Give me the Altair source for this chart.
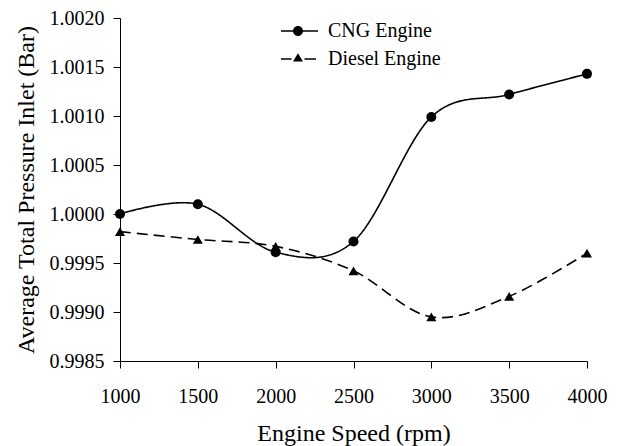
import altair as alt
import pandas as pd

speed = [1000, 1500, 2000, 2500, 3000, 3500, 4000]
cng = [1.00000, 1.00010, 0.99961, 0.99972, 1.00099, 1.00122, 1.00143]
diesel = [0.99982, 0.99974, 0.99967, 0.99942, 0.99895, 0.99916, 0.99960]
series_names = ["CNG Engine", "Diesel Engine"]
x_ticks = [1000, 1500, 2000, 2500, 3000, 3500, 4000]
y_ticks = [0.9985, 0.9990, 0.9995, 1.0000, 1.0005, 1.0010, 1.0015, 1.0020]

rows = []
for s, c, d in zip(speed, cng, diesel):
    rows.append({"speed": s, "pressure": c, "series": series_names[0]})
    rows.append({"speed": s, "pressure": d, "series": series_names[1]})
df = pd.DataFrame(rows)

FONT = "Liberation Serif, Times New Roman, serif"
# legend glyphs: thin filled bars for the line pieces plus the marker
CNG_PATH = ("M-6.4,-0.16H1V0.16H-6.4Z"
            "M-2,0A1,1 0 1,1 -4,0A1,1 0 1,1 -2,0Z")
DIESEL_PATH = ("M-6.4,-0.16H-4.3V0.16H-6.4Z"
               "M-1.7,-0.16H0.6V0.16H-1.7Z"
               "M-3,-1.15L-2,0.5L-4,0.5Z")

x_enc = alt.X(
    "speed:Q",
    scale=alt.Scale(domain=[1000, 4000], nice=False, zero=False),
    axis=alt.Axis(
        values=x_ticks, format="d", title="Engine Speed (rpm)", grid=False,
        tickSize=7, labelPadding=34, labelBaseline="alphabetic",
        labelFlush=False, labelOverlap=False,
        titleBaseline="alphabetic", titleY=79,
    ),
)
y_enc = alt.Y(
    "pressure:Q",
    scale=alt.Scale(domain=[0.9985, 1.0020], nice=False, zero=False),
    axis=alt.Axis(
        values=y_ticks, format=".4f", title="Average Total Pressure Inlet (Bar)",
        grid=False, tickSize=7, labelPadding=9, labelFlush=False, labelOverlap=False,
        titleX=-87, titleY=171.5, titleAngle=270, titleAlign="center",
        titleBaseline="alphabetic",
    ),
)

base = alt.Chart(df)

lines = base.mark_line(interpolate="cardinal", color="black", strokeWidth=1.6).encode(
    x=x_enc, y=y_enc,
    detail="series:N",
    strokeDash=alt.StrokeDash(
        "series:N",
        scale=alt.Scale(domain=series_names, range=[[1, 0], [11, 6]]),
        legend=None,
    ),
)

points = base.mark_point(filled=True, color="black", size=100, opacity=1).encode(
    x=x_enc, y=y_enc,
    shape=alt.Shape(
        "series:N",
        scale=alt.Scale(domain=series_names, range=["circle", "triangle-up"]),
        legend=None,
    ),
)

legend_layer = base.mark_point(
    filled=True, color="black", opacity=0
).encode(
    x=x_enc, y=y_enc,
    shape=alt.Shape(
        "series:N",
        scale=alt.Scale(domain=series_names, range=[CNG_PATH, DIESEL_PATH]),
        legend=alt.Legend(
            title=None, orient="none", legendX=183, legendY=3,
            labelFont=FONT, labelFontSize=20, labelColor="black",
            symbolSize=100, symbolStrokeWidth=0, labelOffset=5, rowPadding=8,
            symbolFillColor="black", symbolOpacity=1,
        ),
    ),
)

chart = (
    alt.layer(lines, points, legend_layer)
    .resolve_scale(shape="independent")
    .properties(
        width=467, height=343,
        autosize=alt.AutoSizeParams(type="none"),
        padding={"left": 112, "top": 10, "right": 22, "bottom": 85},
    )
    .configure_view(stroke=None)
    .configure_axis(
        labelFont=FONT, labelFontSize=20, labelColor="black",
        titleFont=FONT, titleFontSize=24, titleFontWeight="normal", titleColor="black",
        domainColor="black", tickColor="black", domainWidth=1, tickWidth=1,
    )
)

chart.save("out.html", embed_options={"renderer": "svg", "actions": False})
